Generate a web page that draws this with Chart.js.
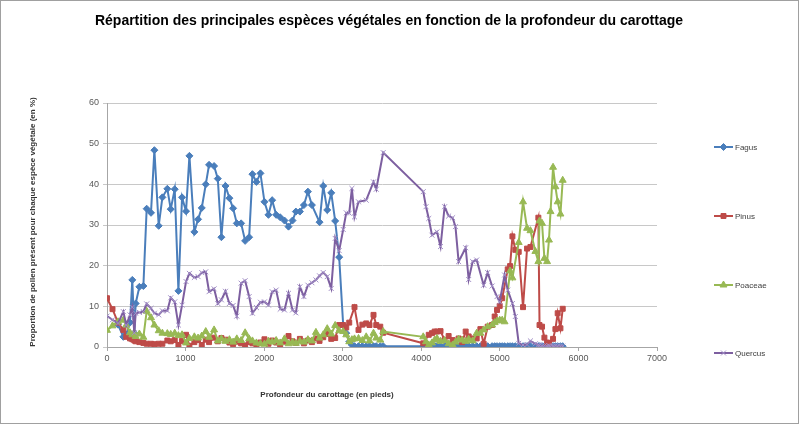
<!DOCTYPE html>
<html><head><meta charset="utf-8">
<script src="https://cdn.jsdelivr.net/npm/chart.js@4/dist/chart.umd.min.js"></script>
<style>html,body{margin:0;padding:0;background:#fff;}canvas{display:block;}</style>
</head><body>
<canvas id="c" width="799" height="424"></canvas>
<script>
const chartTitle = "Répartition des principales espèces végétales en fonction de la profondeur du carottage";
const xTitle = "Profondeur du carottage (en pieds)";
const yTitle = "Proportion de pollen présent pour chaque espèce végétale (en %)";
const seriesNames = ["Fagus", "Pinus", "Poaceae", "Quercus"];
const xTicks = [0,1000,2000,3000,4000,5000,6000,7000];
const yTicks = [0,10,20,30,40,50,60];

const depths = [
0,70,140,208,245,293,322,348,365,412,
463,505,560,603,658,705,768,811,862,909,
955,1006,1049,1112,1159,1206,1257,1299,1363,1410,
1456,1508,1558,1605,1652,1707,1758,1809,1851,1902,
1953,2004,2055,2102,2153,2204,2259,2310,2361,2404,
2455,2506,2557,2608,2659,2705,2752,2803,2854,2904,
2955,3006,3045,3083,3117,3150,3201,3250,3299,3341,
3392,3427,3478,3515,4025,4060,4095,4136,4170,4200,
4245,4297,4348,4399,4435,4475,4520,4565,4603,4654,
4705,4752,4794,4845,4901,4934,4964,4998,5030,5060,
5100,5130,5160,5197,5240,5295,5346,5389,5452,5490,
5505,5537,5567,5601,5625,5645,5677,5707,5736,5771,
5800];

const fagus = [
null,null,5.5,2.5,3,6,16.5,3.4,10.7,14.8,
15,34,33,48.4,29.8,36.8,38.9,33.9,38.8,13.8,
36.8,33.4,47,28.3,31.4,34.2,40,44.8,44.5,41.4,
27,39.6,36.6,34.1,30.4,30.4,26.1,27,42.5,40.6,
42.7,35.7,32.5,36.1,32.5,31.9,31.1,29.6,31.1,33.3,
33.3,34.9,38.2,34.9,null,30.7,39.6,33.7,37.9,31,
22.1,5.4,3.4,1.3,0.5,0.2,0.2,0.2,0.2,0.2,
0.2,0.2,0.2,0.2,0.2,0.2,0.2,0.2,0.2,0.2,
0.2,0.2,0.2,0.2,0.2,0.2,0.2,0.2,0.2,0.2,
0.2,0.2,0.2,0.2,0.2,0.2,0.2,0.2,0.2,0.2,
0.2,0.2,0.2,0.2,0.2,0.2,0.2,0.2,0.2,0.2,
0.2,0.2,0.2,0.2,0.2,0.2,0.2,0.2,0.2,0.2,
0.2];

const pinus = [
12,9.3,6,4.2,2.5,2.1,1.9,1.6,1.4,1.2,
1,0.8,0.8,0.7,0.8,0.8,1.6,1.4,1.7,0.5,
1.5,3,0.3,1.2,1.7,0.5,1.8,1.2,2.3,1.4,
2.2,1.8,1.1,0.7,1.3,0.9,0.4,1.2,0.9,0.6,
1.1,1.9,0.8,1.6,1.1,0.6,1.3,2.7,1.4,1,
2,0.9,1.6,1.2,2.1,1.5,2.4,3.2,2,2.2,
5.4,5.4,4.8,6,null,9.8,4.2,5.5,5.8,5.4,
7.9,5.4,5,3.5,0.9,null,3,3.4,3.8,3.8,
3.9,1.7,2.7,1.7,null,2.1,1.2,3.8,2.6,2.1,
2.1,4.4,0.8,5,5.4,7.5,9.1,10.1,12,null,
19.1,19.9,27.2,23.9,23.4,9.8,24.2,24.6,null,31.8,
5.4,5,2.3,1.1,0.9,null,2,4.4,8.3,4.6,
9.4];

const poaceae = [
4.1,5.2,6.2,6.6,5.4,3.5,3,3.4,2.6,3.2,
2.4,8.8,7.2,5.4,4,3.4,3.3,3.1,3.4,2.8,
3,1,2.1,2.5,2.2,2.7,3.8,2.4,4.2,1.5,
2,1.4,1.8,1.2,2,1.6,3.5,2,1.5,1,
0.8,0.7,1.4,1.2,1.6,1,2,0.8,1.2,0.9,
1.4,1.2,1.8,1.5,3.6,2.2,3,4.5,3.2,5.3,
4,3.8,3,1.3,1.8,2,2.1,1.6,2.5,1.5,
3.4,2.2,1.7,3.8,2.5,1.3,0.5,1,1.7,2.1,
1.4,1.6,0.8,0.5,1.2,1.9,1.7,1.4,1.9,1.5,
3.4,3.4,4.2,5,5.4,6,6.4,6.6,6.6,6.2,
null,18.7,17,null,25.7,35.7,29.2,28.6,23.5,21,
31,30.4,21.8,21,26.3,33.3,44.2,39.4,35.7,32.7,
41];

const quercus = [
7.6,6.7,5.8,8.7,5.4,7.9,9.8,3.5,8.3,8.5,
8.7,10.6,9.5,8.3,7.9,8.9,8.9,12.1,11.1,5.4,
10.3,16.1,18.1,17.1,17.3,18.3,18.5,13.6,14.3,10.7,
11.6,13.7,10.7,10.2,7.6,15.7,16.3,12.4,8.3,9.7,
11,11.1,10.3,13.6,14,9.3,9.1,13.2,9.1,8.4,
14.8,12.4,15.2,15.8,16.5,17.5,18.3,17.3,14.4,26.7,
23.7,28.9,33,32.9,39,32,35.7,null,36.1,null,
40.6,38.8,null,47.8,38.2,34.5,31.6,27.5,null,28.3,
24.7,34.5,32.2,31.8,29.6,21,null,24.4,16.6,21,
21.4,null,15.2,18.3,15,null,12.4,11.1,null,17.7,
14,null,10.7,7.5,0.9,0.5,0.6,1.5,0.8,0.5,
0.4,0.3,0.3,0.2,0.3,0.2,0.2,0.3,0.2,0.2,
0.2];

const seriesValues = [fagus, pinus, poaceae, quercus];
const lineColors = ["#4A7EBB", "#BE4B48", "#98B954", "#7D5FA0"];
const markerColors = ["#4A7EBB", "#BE4B48", "#98B954", "#A390C8"];
const markerStyles = ["rectRot", "rect", "triangle", "crossRot"];
const markerRadius = [3.5, 3.5, 4, 3.5];

function toPoints(vals){
  const pts = [];
  for (let i = 0; i < depths.length; i++) {
    if (vals[i] !== null && vals[i] !== undefined) pts.push({x: depths[i], y: vals[i]});
  }
  return pts;
}

const datasets = seriesNames.map((name, i) => ({
  label: name,
  data: toPoints(seriesValues[i]),
  showLine: true,
  borderColor: lineColors[i],
  borderWidth: 2,
  backgroundColor: markerColors[i],
  pointStyle: markerStyles[i],
  pointRadius: markerRadius[i],
  pointBorderColor: markerColors[i],
  pointBackgroundColor: markerColors[i],
  pointBorderWidth: 1,
  tension: 0,
  order: 4 - i
}));

const deco = {
  id: 'deco',
  beforeDraw(chart){
    const ctx = chart.ctx;
    ctx.save();
    ctx.fillStyle = '#ffffff';
    ctx.fillRect(0, 0, chart.width, chart.height);
    ctx.restore();
  },
  afterDraw(chart){
    const ctx = chart.ctx;
    ctx.save();
    ctx.fillStyle = '#000000';
    ctx.textAlign = 'center';
    ctx.textBaseline = 'middle';
    ctx.font = 'bold 14px "Liberation Sans", sans-serif';
    ctx.fillText(chartTitle, 389, 21);

    ctx.fillStyle = '#333333';
    ctx.font = 'bold 8px "Liberation Sans", sans-serif';
    ctx.fillText(xTitle, 327, 395);

    ctx.save();
    ctx.translate(33, 222);
    ctx.rotate(-Math.PI / 2);
    ctx.fillText(yTitle, 0, 0);
    ctx.restore();

    const legendY = [147, 216, 285, 353];
    ctx.textAlign = 'left';
    ctx.font = '8px "Liberation Sans", sans-serif';
    seriesNames.forEach((name, i) => {
      const y = legendY[i];
      ctx.strokeStyle = lineColors[i];
      ctx.lineWidth = 2;
      ctx.beginPath();
      ctx.moveTo(714, y);
      ctx.lineTo(733, y);
      ctx.stroke();
      ctx.strokeStyle = markerColors[i];
      ctx.fillStyle = markerColors[i];
      ctx.lineWidth = 1;
      Chart.helpers.drawPoint(ctx, {pointStyle: markerStyles[i], radius: markerRadius[i], borderWidth: 1, rotation: 0}, 723.5, y);
      ctx.fillStyle = '#404040';
      ctx.fillText(name, 735, y + 0.5);
    });

    ctx.strokeStyle = '#a0a0a0';
    ctx.lineWidth = 1;
    ctx.strokeRect(0.5, 0.5, chart.width - 1, chart.height - 1);
    ctx.restore();
  }
};

new Chart(document.getElementById('c'), {
  type: 'scatter',
  data: { datasets },
  options: {
    responsive: false,
    animation: false,
    devicePixelRatio: 1,
    layout: { padding: { top: 103, right: 142, left: 0, bottom: 0 } },
    plugins: { legend: { display: false }, title: { display: false }, tooltip: { enabled: false } },
    scales: {
      x: {
        type: 'linear', min: 0, max: 7000,
        afterFit(s){ s.height = 77; },
        afterBuildTicks(s){ s.ticks = xTicks.map(v => ({value: v})); },
        ticks: { color: '#595959', font: { size: 9, family: '"Liberation Sans", sans-serif' }, padding: 2, maxRotation: 0, callback: v => String(v) },
        grid: { drawOnChartArea: false, color: '#a6a6a6', tickLength: 4 },
        border: { color: '#a6a6a6' }
      },
      y: {
        type: 'linear', min: 0, max: 60,
        afterFit(s){ s.width = 107; },
        afterBuildTicks(s){ s.ticks = yTicks.map(v => ({value: v})); },
        ticks: { color: '#595959', font: { size: 9, family: '"Liberation Sans", sans-serif' }, padding: 4, callback: v => String(v) },
        grid: { color: '#c8c8c8', tickLength: 4 },
        border: { color: '#a6a6a6' }
      }
    }
  },
  plugins: [deco]
});
</script>
</body></html>
